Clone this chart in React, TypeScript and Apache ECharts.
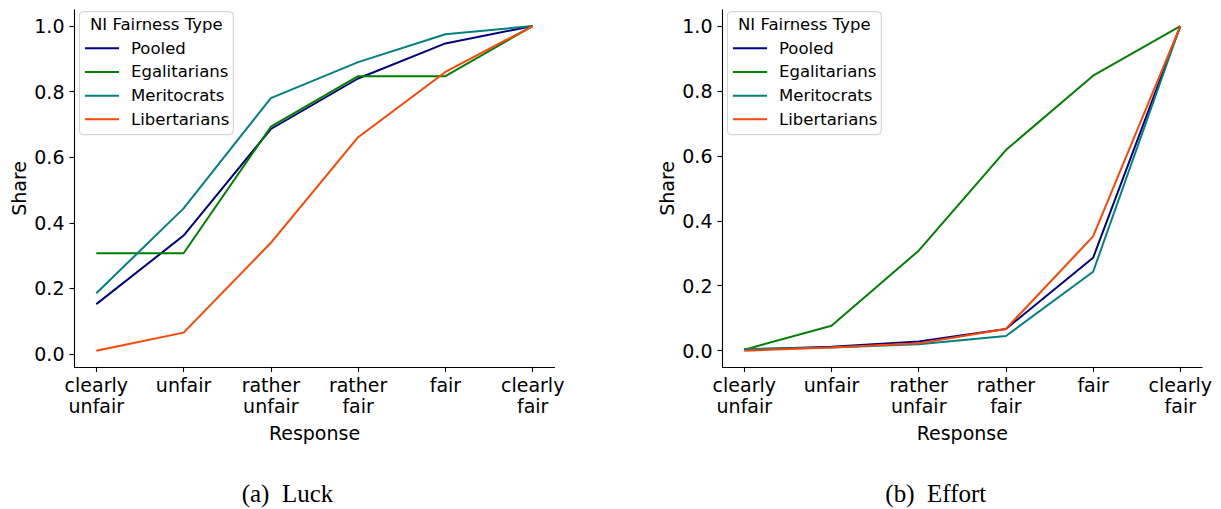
import React, { useEffect, useRef } from "react";
import * as echarts from "echarts";

// Response categories along the x axis
const categories = ["clearly\nunfair", "unfair", "rather\nunfair", "rather\nfair", "fair", "clearly\nfair"];
const categoryPositions = [0, 1, 2, 3, 4, 5];
const seriesNames = ["Pooled", "Egalitarians", "Meritocrats", "Libertarians"];
const seriesColors = ["#000080", "#008000", "#008080", "#ff4500"];
const yTicks = [0, 0.2, 0.4, 0.6, 0.8, 1.0];

// Cumulative share, Luck question
const luckPooled = [0.152, 0.361, 0.686, 0.84, 0.947, 1.0];
const luckEgalitarians = [0.307, 0.307, 0.693, 0.847, 0.847, 1.0];
const luckMeritocrats = [0.185, 0.444, 0.78, 0.89, 0.975, 1.0];
const luckLibertarians = [0.01, 0.065, 0.339, 0.661, 0.86, 1.0];

// Cumulative share, Effort question
const effortPooled = [0.003, 0.012, 0.028, 0.067, 0.286, 1.0];
const effortEgalitarians = [0.003, 0.077, 0.308, 0.618, 0.847, 1.0];
const effortMeritocrats = [0.005, 0.01, 0.02, 0.045, 0.243, 1.0];
const effortLibertarians = [0.0, 0.01, 0.023, 0.067, 0.352, 1.0];

const panels = [
  { caption: "(a)\u00a0\u00a0Luck", series: [luckPooled, luckEgalitarians, luckMeritocrats, luckLibertarians] },
  { caption: "(b)\u00a0\u00a0Effort", series: [effortPooled, effortEgalitarians, effortMeritocrats, effortLibertarians] },
];

const SANS = "'DejaVu Sans', sans-serif";
const SERIF = "'Liberation Serif', 'Times New Roman', serif";

// Layout of the two panels
const gridLayout = [
  { left: 74.5, top: 9.8, width: 480, height: 357.1 },
  { left: 722.5, top: 9.8, width: 479.6, height: 357.1 },
];
const yRanges = [
  { min: -0.0395, max: 1.0495 },
  { min: -0.05, max: 1.05 },
];
const legendBoxes = [
  { x: 79.3, y: 11.7, w: 154, h: 123 },
  { x: 727.3, y: 11.7, w: 154, h: 123 },
];
const captionCenters = [287.5, 935.8];

export default function App() {
  const ref = useRef<HTMLDivElement>(null);

  useEffect(() => {
    if (!ref.current) return;
    const chart = echarts.init(ref.current, undefined, { renderer: "svg" });

    const grid = gridLayout.map((g) => ({ ...g, containLabel: false }));

    const xAxis = panels.map((_, i) => ({
      type: "value",
      gridIndex: i,
      min: -0.25,
      max: 5.25,
      name: "Response",
      nameLocation: "middle",
      nameGap: 51,
      nameTextStyle: { fontSize: 19, color: "#000", fontFamily: SANS, lineHeight: 22 },
      axisLine: { show: true, onZero: false, lineStyle: { color: "#000", width: 1.1 } },
      axisTick: { show: true, length: 5, lineStyle: { color: "#000", width: 1.1 }, customValues: categoryPositions },
      axisLabel: {
        customValues: categoryPositions,
        formatter: (v: number) => categories[Math.round(v)],
        fontSize: 19,
        lineHeight: 21,
        color: "#000",
        fontFamily: SANS,
        margin: 8,
      },
      splitLine: { show: false },
    }));

    const yAxis = panels.map((_, i) => ({
      type: "value",
      gridIndex: i,
      min: yRanges[i].min,
      max: yRanges[i].max,
      name: "Share",
      nameLocation: "middle",
      nameGap: 43,
      nameTextStyle: { fontSize: 19, color: "#000", fontFamily: SANS, lineHeight: 22 },
      axisLine: { show: true, onZero: false, lineStyle: { color: "#000", width: 1.1 } },
      axisTick: { show: true, length: 5, lineStyle: { color: "#000", width: 1.1 }, customValues: yTicks },
      axisLabel: {
        customValues: yTicks,
        formatter: (v: number) => v.toFixed(1),
        fontSize: 19,
        color: "#000",
        fontFamily: SANS,
        margin: 10,
      },
      splitLine: { show: false },
    }));

    const series: any[] = [];
    panels.forEach((panel, p) => {
      panel.series.forEach((values, s) => {
        series.push({
          type: "line",
          name: seriesNames[s],
          xAxisIndex: p,
          yAxisIndex: p,
          data: values.map((v, k) => [categoryPositions[k], v]),
          symbol: "none",
          color: seriesColors[s],
          lineStyle: { width: 2, color: seriesColors[s] },
          z: 2 + s * 0.01,
        });
      });
    });

    const legend = legendBoxes.map((b) => ({
      orient: "vertical",
      left: b.x + 5.7,
      top: 38.3,
      padding: 0,
      itemGap: 3.67,
      itemWidth: 34,
      itemHeight: 2,
      icon: "rect",
      selectedMode: false,
      data: seriesNames,
      textStyle: { fontSize: 16.5, lineHeight: 20, color: "#000", fontFamily: SANS, padding: [0, 0, 0, 7] },
      z: 5,
    }));

    const graphic: any[] = [];
    legendBoxes.forEach((b) => {
      graphic.push({
        type: "rect",
        z: 3,
        shape: { x: b.x, y: b.y, width: b.w, height: b.h, r: 4 },
        style: { fill: "rgba(255,255,255,0.8)", stroke: "#cccccc", lineWidth: 1 },
      });
      graphic.push({
        type: "text",
        z: 5,
        x: b.x + b.w / 2,
        y: 24.5,
        style: {
          text: "NI Fairness Type",
          font: `16.5px ${SANS}`,
          fill: "#000",
          align: "center",
          verticalAlign: "middle",
        },
      });
    });
    panels.forEach((panel, p) => {
      graphic.push({
        type: "text",
        x: captionCenters[p],
        y: 493,
        style: {
          text: panel.caption,
          font: `25px ${SERIF}`,
          fill: "#000",
          align: "center",
          verticalAlign: "middle",
        },
      });
    });

    chart.setOption({
      animation: false,
      backgroundColor: "#fff",
      grid,
      xAxis,
      yAxis,
      legend,
      series,
      graphic,
    } as any);

    return () => chart.dispose();
  }, []);

  return (
    <div
      ref={ref}
      style={{ position: "absolute", left: 0, top: 0, width: 1221, height: 509 }}
    />
  );
}
